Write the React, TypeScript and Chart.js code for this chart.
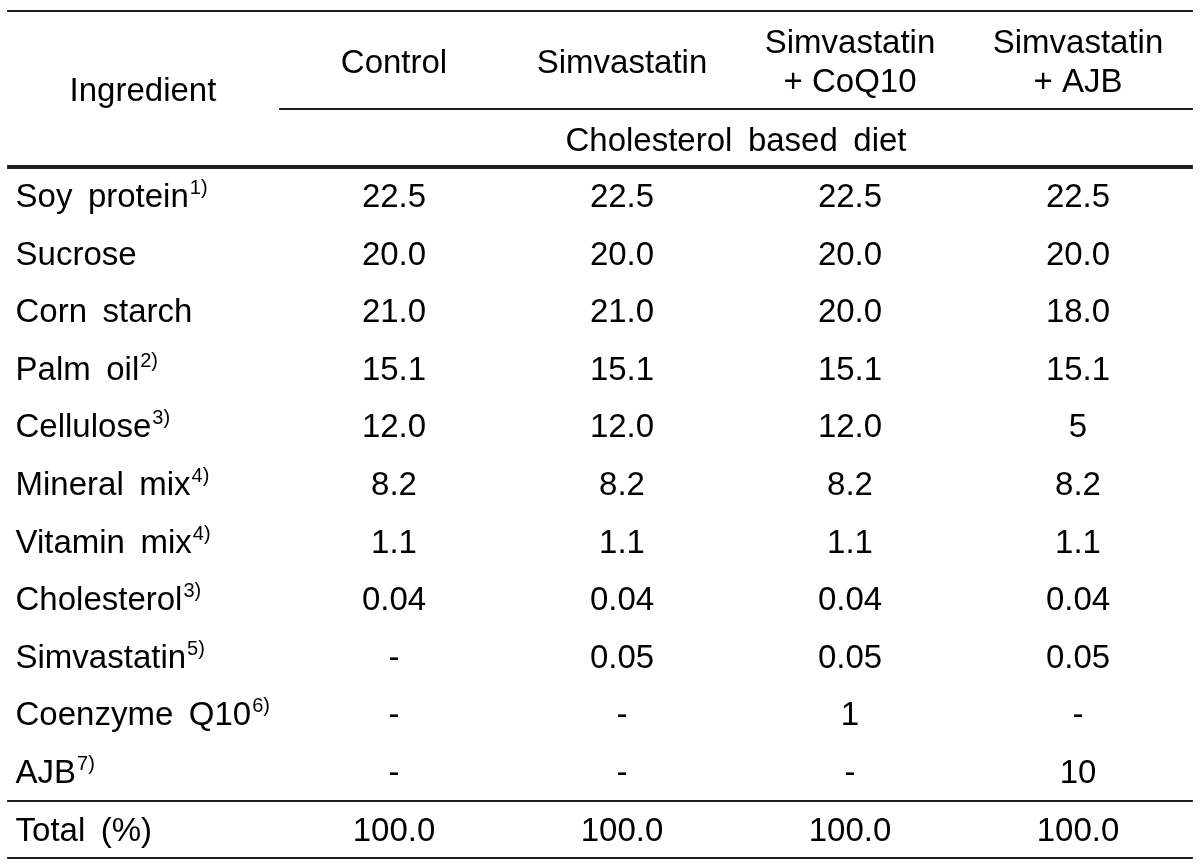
import React, { useEffect, useRef } from 'react';
import { Chart, registerables } from 'chart.js';

Chart.register(...registerables);

// ---------------- data ----------------
const firstHeader = 'Ingredient';
const groupHeaders: string[][] = [
  ['Control'],
  ['Simvastatin'],
  ['Simvastatin', '+ CoQ10'],
  ['Simvastatin', '+ AJB'],
];
const subHeader = 'Cholesterol  based  diet';
const ingredients = [
  'Soy  protein',
  'Sucrose',
  'Corn  starch',
  'Palm  oil',
  'Cellulose',
  'Mineral  mix',
  'Vitamin  mix',
  'Cholesterol',
  'Simvastatin',
  'Coenzyme  Q10',
  'AJB',
];
const footnotes = ['1)', '', '', '2)', '3)', '4)', '4)', '3)', '5)', '6)', '7)'];
const controlValues = ['22.5', '20.0', '21.0', '15.1', '12.0', '8.2', '1.1', '0.04', '-', '-', '-'];
const simvastatinValues = ['22.5', '20.0', '21.0', '15.1', '12.0', '8.2', '1.1', '0.04', '0.05', '-', '-'];
const coq10Values = ['22.5', '20.0', '20.0', '15.1', '12.0', '8.2', '1.1', '0.04', '0.05', '1', '-'];
const ajbValues = ['22.5', '20.0', '18.0', '15.1', '5', '8.2', '1.1', '0.04', '0.05', '-', '10'];
const totalLabel = 'Total  (%)';
const totalValues = ['100.0', '100.0', '100.0', '100.0'];

// ---------------- style / layout ----------------
const FONT = '"Liberation Sans", Arial, Helvetica, sans-serif';
const MAIN_SIZE = 33;
const SUP_SIZE = 20;
const SUP_RAISE = 13;
const WORD_GAP = 15.5;
const TEXT_COLOR = '#000000';
const LINE_COLOR = '#1e1e1e';

const X_MIN = -0.7281;
const X_MAX = 4.5351;
const Y_MIN = -3.59375;
const Y_MAX = 11.4757;

const LABEL_X = -0.66;
const TABLE_LEFT = -0.697;
const TABLE_RIGHT = 4.504;
const GROUP_LEFT = 0.496;

function drawSpaced(
  ctx: CanvasRenderingContext2D,
  text: string,
  x: number,
  y: number,
  align: 'left' | 'center'
): number {
  const parts = text.split('  ');
  const widths = parts.map((p) => ctx.measureText(p).width);
  const total = widths.reduce((a, b) => a + b, 0) + WORD_GAP * (parts.length - 1);
  let cx = align === 'center' ? x - total / 2 : x;
  ctx.textAlign = 'left';
  parts.forEach((p, i) => {
    ctx.fillText(p, cx, y);
    cx += widths[i] + (i < parts.length - 1 ? WORD_GAP : 0);
  });
  return cx;
}

const tablePlugin = {
  id: 'tableText',
  afterDatasetsDraw(chart: any) {
    const ctx: CanvasRenderingContext2D = chart.ctx;
    const xs = chart.scales.x;
    const ys = chart.scales.y;
    const px = (v: number) => xs.getPixelForValue(v);
    const py = (v: number) => ys.getPixelForValue(v);

    ctx.save();
    // horizontal rules
    const hline = (x0: number, x1: number, y: number, w: number) => {
      ctx.beginPath();
      ctx.strokeStyle = LINE_COLOR;
      ctx.lineWidth = w;
      const yy = Math.round(py(y));
      ctx.moveTo(px(x0), yy);
      ctx.lineTo(px(x1), yy);
      ctx.stroke();
    };
    hline(TABLE_LEFT, TABLE_RIGHT, -3.403, 2);
    hline(GROUP_LEFT, TABLE_RIGHT, -1.701, 2);
    hline(TABLE_LEFT, TABLE_RIGHT, -0.694, 4);
    hline(TABLE_LEFT, TABLE_RIGHT, 10.3125, 2);
    hline(TABLE_LEFT, TABLE_RIGHT, 11.309, 2);

    ctx.fillStyle = TEXT_COLOR;
    ctx.textBaseline = 'alphabetic';
    ctx.font = `${MAIN_SIZE}px ${FONT}`;

    // header
    drawSpaced(ctx, firstHeader, px(-0.101), py(-1.832), 'center');
    groupHeaders.forEach((lines, i) => {
      const c = i + 1;
      if (lines.length === 1) {
        drawSpaced(ctx, lines[0], px(c), py(-2.326), 'center');
      } else {
        drawSpaced(ctx, lines[0], px(c), py(-2.674), 'center');
        drawSpaced(ctx, lines[1], px(c), py(-1.997), 'center');
      }
    });
    drawSpaced(ctx, subHeader, px(2.5), py(-0.972), 'center');

    // cells from dataset elements
    chart.data.datasets.forEach((ds: any, di: number) => {
      const meta = chart.getDatasetMeta(di);
      meta.data.forEach((el: any, j: number) => {
        const txt = ds.cellText[j];
        ctx.font = `${MAIN_SIZE}px ${FONT}`;
        if (ds.isLabel) {
          const end = drawSpaced(ctx, txt, el.x, el.y, 'left');
          const sup = ds.sup[j];
          if (sup) {
            ctx.font = `${SUP_SIZE}px ${FONT}`;
            ctx.textAlign = 'left';
            ctx.fillText(sup, end + 1, el.y - SUP_RAISE);
          }
        } else {
          drawSpaced(ctx, txt, el.x, el.y, 'center');
        }
      });
    });
    ctx.restore();
  },
};

export default function App() {
  const canvasRef = useRef<HTMLCanvasElement | null>(null);

  useEffect(() => {
    if (!canvasRef.current) return;
    const columns = [controlValues, simvastatinValues, coq10Values, ajbValues];
    const labelTexts = [...ingredients, totalLabel];
    const datasets: any[] = [
      {
        label: 'Ingredient',
        isLabel: true,
        cellText: labelTexts,
        sup: [...footnotes, ''],
        data: labelTexts.map((_, i) => ({ x: LABEL_X, y: i })),
        pointRadius: 0,
        pointHoverRadius: 0,
      },
      ...columns.map((vals, ci) => ({
        label: groupHeaders[ci].join(' '),
        isLabel: false,
        cellText: [...vals, totalValues[ci]],
        data: [...vals, totalValues[ci]].map((_, i) => ({ x: ci + 1, y: i })),
        pointRadius: 0,
        pointHoverRadius: 0,
      })),
    ];

    const chart = new Chart(canvasRef.current, {
      type: 'scatter',
      data: { datasets },
      options: {
        animation: false,
        responsive: false,
        devicePixelRatio: 1,
        events: [],
        layout: { padding: 0 },
        plugins: { legend: { display: false }, tooltip: { enabled: false } },
        scales: {
          x: { type: 'linear', display: false, min: X_MIN, max: X_MAX },
          y: { type: 'linear', display: false, reverse: true, min: Y_MIN, max: Y_MAX },
        },
      },
      plugins: [tablePlugin],
    } as any);
    return () => chart.destroy();
  }, []);

  return (
    <div style={{ position: 'fixed', left: 0, top: 0, width: 1200, height: 868, background: '#ffffff' }}>
      <canvas ref={canvasRef} width={1200} height={868} style={{ width: 1200, height: 868, display: 'block' }} />
    </div>
  );
}
